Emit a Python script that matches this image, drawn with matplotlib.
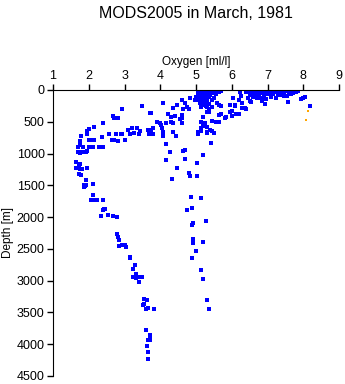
import matplotlib
matplotlib.use("Agg")
import matplotlib.pyplot as plt

title = "MODS2005 in March, 1981"
xlabel = "Oxygen [ml/l]"
ylabel = "Depth [m]"
xticks = [1, 2, 3, 4, 5, 6, 7, 8, 9]
yticks = [0, 500, 1000, 1500, 2000, 2500, 3000, 3500, 4000, 4500]

# surface cluster near 5.0-5.6 ml/l
clusterA_oxy = [5.05,5.1,5.15,5.2,5.25,5.3,5.35,5.4,5.45,5.5,5.55,5.6,5.1,5.15,5.2,5.25,5.3,5.35,5.4,5.45,
                5.05,5.1,5.15,5.2,5.25,5.3,5.35,5.4,5.12,5.18,5.22,5.28,5.32,5.06,5.15,5.25,5.3,5.1,5.2,5.28,
                5.15,5.35,5.45,5.5,5.55,5.65,5.7,6.23,6.4,5.0,4.98,5.45,5.35]
clusterA_dep = [20,10,5,15,10,5,12,8,5,10,5,5,40,50,45,60,40,55,30,45,
                70,80,95,85,100,90,110,75,120,135,150,125,140,160,175,190,170,210,230,250,
                270,215,160,120,60,30,20,26,26,110,150,260,300]

# surface cluster near 6.4-7.2 ml/l
clusterB_oxy = [6.45,6.5,6.55,6.6,6.65,6.7,6.75,6.8,6.85,6.9,6.95,7.0,7.05,7.1,6.5,6.55,6.6,6.65,6.7,6.75,
                6.8,6.85,6.9,6.95,7.0,7.05,6.6,6.7,6.75,6.8,6.9,6.95,6.45,6.5,6.85,7.1,7.15,7.2]
clusterB_dep = [10,30,10,5,20,8,15,5,25,10,5,15,8,20,60,80,50,70,40,90,
                55,45,75,60,40,65,110,120,100,130,115,140,130,170,170,110,60,30]

# surface cluster near 7.3-7.9 ml/l
clusterC_oxy = [7.3,7.35,7.4,7.45,7.5,7.55,7.6,7.65,7.7,7.75,7.8,7.85,7.4,7.55,7.65,7.45,7.3,7.25]
clusterC_dep = [10,40,15,60,20,5,35,10,50,15,30,10,80,90,70,100,75,120]

# scattered shallow points
shallow_oxy = [4.09,4.62,4.83,4.46,4.36,4.7,4.75,4.8,4.65,3.73,4.22,4.3,4.4,4.6,4.55,4.62,3.9,4.0,4.15,4.3,
               4.35,4.6,3.79,4.06,4.08,4.36,4.07,4.44,3.8,
               5.2,5.3,5.6,5.7,5.65,5.63,5.7,5.3,5.35,5.2,5.15,5.25,5.2,5.3,5.15,5.45,5.55,5.65,5.8,5.85,
               5.95,6.08,6.0,6.02,6.2,5.5,5.3,5.05,5.4,5.45,6.04,6.3,6.4,6.38,6.93,6.55,7.56,7.94,8.0,8.06,
               8.2,6.1,6.28,5.95,6.13,6.25,6.2]
shallow_dep = [210,163,131,242,289,210,260,306,306,367,370,420,410,400,450,440,500,515,525,510,
               520,525,600,600,660,655,720,730,690,
               180,260,200,250,230,390,385,350,345,430,500,520,560,580,600,480,500,510,435,420,
               240,240,325,410,370,670,680,690,630,640,131,200,300,290,215,196,194,140,120,110,
               257,250,280,350,380,95,160]

# profile around 5 ml/l reaching deep water
mid_oxy = [4.15,4.26,4.65,4.7,4.17,4.70,5.19,5.04,4.48,4.81,4.82,5.04,4.34,4.85,5.15,4.88,4.76,5.29,4.92,4.90,
           4.92,4.91,5.2,5.01,4.9,5.13,5.2,5.30,5.37,5.43,5.05,5.15,5.3]
mid_dep = [856,982,960,945,1107,1092,1029,1155,1233,1307,1360,1360,1407,1690,1706,1864,1895,2058,2100,2130,
           2340,2400,2390,2530,2650,2825,2977,3307,3440,840,656,650,655]

# low-oxygen branch, upper part
left_oxy = [2.92,3.50,3.72,2.67,2.81,2.70,2.40,3.90,4.02,2.16,2.02,1.95,1.96,1.79,1.75,1.76,1.70,1.70,1.76,1.80,
            1.86,1.92,1.95,2.02,2.13,2.28,2.39,1.85,2.02,2.09,2.16,2.37,2.58,2.65,2.72,2.75,2.83,2.9,2.93,3.0,
            3.1,3.15,3.27,3.4,3.44,3.65,3.75,3.69,3.78,3.2,3.35]
left_dep = [304,257,368,410,446,440,515,509,546,578,609,646,693,724,808,866,902,976,985,970,
            980,975,960,898,898,900,898,900,790,785,790,740,688,793,787,693,803,693,700,793,
            630,688,683,700,640,630,630,693,700,600,605]

# low-oxygen branch, deep part
deep_oxy = [1.63,1.75,1.73,1.63,1.70,1.75,1.80,1.96,1.74,1.79,1.92,1.86,1.89,1.93,1.88,2.13,2.13,2.07,2.14,2.22,
            2.40,2.43,2.40,2.46,2.35,2.53,2.68,2.80,2.78,2.82,2.86,2.86,2.94,3.0,3.04,3.15,3.15,3.29,3.24,3.32,
            3.24,3.33,3.40,3.50,3.41,3.55,3.55,3.53,3.62,3.60,3.67,3.83,3.60,3.71,3.65,3.70,3.72,3.63,3.66,3.67]
deep_dep = [1134,1165,1200,1235,1235,1240,1250,1225,1323,1330,1420,1495,1505,1500,1530,1480,1654,1725,1735,1730,
            1725,1875,1890,1865,1985,1970,1985,2000,2265,2310,2360,2460,2440,2445,2470,2620,2650,2760,2820,2890,
            2950,2960,2950,2940,3020,3285,3370,3380,3310,3440,3435,3440,3770,3850,3930,3925,3935,4035,4130,4225]

# flagged samples (orange)
flag_oxy = [8.14, 8.09]
flag_dep = [326, 467]

blue_oxy = clusterA_oxy + clusterB_oxy + clusterC_oxy + shallow_oxy + mid_oxy + left_oxy + deep_oxy
blue_dep = clusterA_dep + clusterB_dep + clusterC_dep + shallow_dep + mid_dep + left_dep + deep_dep

plt.rcParams['font.family'] = ['Liberation Sans', 'DejaVu Sans']
fig = plt.figure(figsize=(3.45, 3.84), dpi=100)
ax = fig.add_axes([53/345, 1-376/384, (339-53)/345, (376-90)/384])

ax.plot(blue_oxy, blue_dep, linestyle='none', marker='s', ms=2.4, mew=0, color='#0000ff')
ax.plot(flag_oxy, flag_dep, linestyle='none', marker='s', ms=2.0, mew=0, color='#ffa500')

ax.set_xlim(1, 9)
ax.set_ylim(4500, 0)
ax.set_xticks(xticks)
ax.set_yticks(yticks)
ax.xaxis.tick_top()
ax.xaxis.set_label_position('top')
ax.spines['right'].set_visible(False)
ax.spines['bottom'].set_visible(False)
ax.tick_params(axis='both', labelsize=9, length=4, width=1, color='black', pad=2)
ax.set_xlabel(xlabel, fontsize=8.5, labelpad=3)
ax.set_ylabel(ylabel, fontsize=8.5, labelpad=2)
fig.text(196/345, 1-13/384, title, ha='center', va='center', fontsize=11.5)

fig.savefig('out.png', dpi=100)
